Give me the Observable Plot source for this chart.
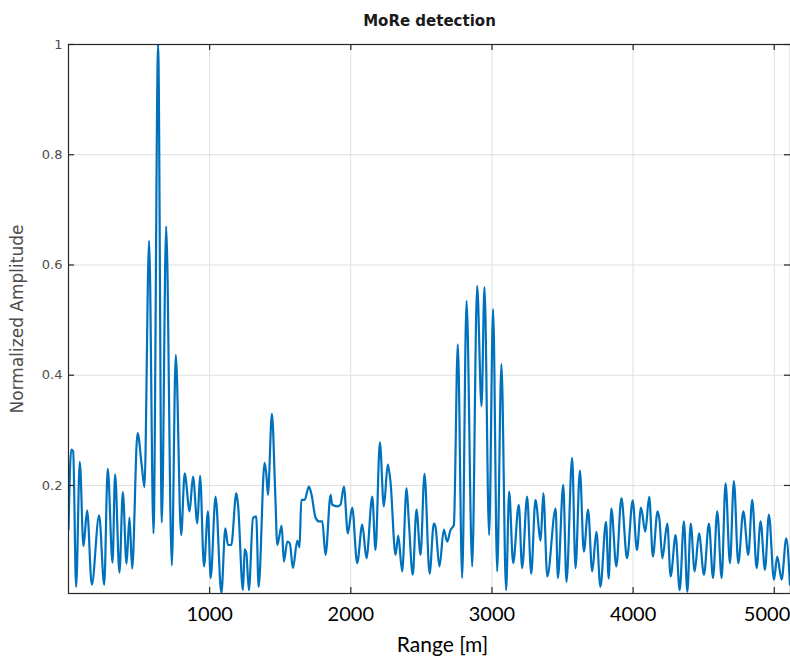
<!DOCTYPE html>
<html>
<head>
<meta charset="utf-8">
<script src="https://cdn.jsdelivr.net/npm/d3@7"></script>
<script src="https://cdn.jsdelivr.net/npm/@observablehq/plot@0.6"></script>
<style>
  html, body { margin: 0; padding: 0; background: #fff; }
</style>
</head>
<body>
<div id="chart"></div>
<script>
const titleText = "MoRe detection";
const xLabel = "Range [m]";
const yLabel = "Normalized Amplitude";
const xTicks = [1000, 2000, 3000, 4000, 5000];
const yTicks = [0.2, 0.4, 0.6, 0.8, 1];

const rangeM = [
  0, 19, 33, 54, 80, 106, 132, 165, 217, 253, 278, 312, 330, 361, 385, 411, 432, 451, 489, 519,
  538, 571, 602, 635, 661, 692, 732, 760, 798, 823, 858, 882, 913, 932, 960, 988, 1007, 1042, 1083, 1111,
  1130, 1153, 1189, 1201, 1236, 1248, 1260, 1278, 1307, 1330, 1347, 1389, 1401, 1413, 1441, 1465, 1479, 1510, 1526, 1550,
  1568, 1590, 1621, 1637, 1649, 1673, 1703, 1722, 1750, 1774, 1798, 1821, 1857, 1868, 1904, 1927, 1951, 1979, 2010, 2045,
  2081, 2111, 2152, 2175, 2206, 2234, 2262, 2281, 2317, 2336, 2364, 2395, 2411, 2439, 2465, 2494, 2522, 2558, 2588, 2600,
  2628, 2659, 2683, 2706, 2730, 2758, 2789, 2820, 2860, 2895, 2926, 2947, 2980, 3008, 3037, 3067, 3100, 3122, 3150, 3190,
  3214, 3249, 3278, 3308, 3345, 3364, 3392, 3451, 3467, 3505, 3528, 3568, 3592, 3623, 3651, 3681, 3710, 3740, 3768, 3808,
  3827, 3846, 3881, 3917, 3957, 3997, 4027, 4056, 4086, 4114, 4140, 4173, 4187, 4207, 4242, 4266, 4301, 4330, 4360, 4384,
  4408, 4436, 4467, 4502, 4537, 4566, 4596, 4627, 4655, 4686, 4714, 4745, 4781, 4816, 4844, 4875, 4903, 4934, 4962, 4998,
  5021, 5052, 5085, 5111
];
const amplitude = [
  0.12, 0.265, 0.262, 0.016, 0.243, 0.09, 0.155, 0.02, 0.146, 0.02, 0.23, 0.06, 0.22, 0.042, 0.188, 0.058, 0.142, 0.049, 0.295, 0.236,
  0.197, 0.644, 0.113, 1.0, 0.133, 0.67, 0.055, 0.437, 0.11, 0.222, 0.153, 0.216, 0.131, 0.218, 0.053, 0.153, 0.032, 0.18, 0.005, 0.122,
  0.092, 0.092, 0.186, 0.165, 0.01, 0.084, 0.077, 0.01, 0.141, 0.144, 0.016, 0.241, 0.222, 0.183, 0.33, 0.183, 0.092, 0.127, 0.062, 0.098,
  0.095, 0.05, 0.1, 0.088, 0.174, 0.174, 0.198, 0.183, 0.142, 0.135, 0.135, 0.074, 0.183, 0.165, 0.162, 0.165, 0.198, 0.113, 0.16, 0.059,
  0.129, 0.068, 0.18, 0.083, 0.278, 0.162, 0.238, 0.207, 0.074, 0.109, 0.044, 0.195, 0.135, 0.038, 0.156, 0.074, 0.221, 0.04, 0.131, 0.125,
  0.053, 0.12, 0.098, 0.119, 0.128, 0.456, 0.032, 0.535, 0.053, 0.562, 0.344, 0.56, 0.11, 0.52, 0.044, 0.42, 0.01, 0.189, 0.059, 0.165,
  0.05, 0.18, 0.04, 0.174, 0.1, 0.186, 0.035, 0.158, 0.032, 0.201, 0.025, 0.25, 0.05, 0.227, 0.08, 0.156, 0.044, 0.116, 0.016, 0.134,
  0.031, 0.158, 0.053, 0.177, 0.068, 0.173, 0.083, 0.16, 0.116, 0.18, 0.071, 0.153, 0.137, 0.068, 0.131, 0.035, 0.11, 0.01, 0.135, 0.007,
  0.131, 0.044, 0.113, 0.038, 0.131, 0.032, 0.153, 0.032, 0.204, 0.059, 0.208, 0.059, 0.153, 0.074, 0.174, 0.05, 0.135, 0.047, 0.147, 0.029,
  0.071, 0.029, 0.104, 0.02
];

const data = rangeM.map((x, i) => ({x, y: amplitude[i]}));

const W = 790, H = 664, mL = 68, mR = 0, mT = 44, mB = 71;
const fw = W - mL - mR, fh = H - mT - mB, tk = 6;
const frameColor = "#262626";
const gridColor = "#dfdfdf";
const xFont = {fontSize: 20, fontFamily: "Lato", fill: "#000"};

const chart = Plot.plot({
  width: W,
  height: H,
  marginLeft: mL,
  marginRight: mR,
  marginTop: mT,
  marginBottom: mB,
  style: {background: "#fff", fontFamily: "DejaVu Sans"},
  x: {domain: [0, 5115], axis: null},
  y: {domain: [0.004, 1], axis: null},
  marks: [
    Plot.ruleX(xTicks, {x: d => d, stroke: gridColor, strokeWidth: 1}),
    Plot.ruleY(yTicks, {y: d => d, stroke: gridColor, strokeWidth: 1}),
    Plot.line(data, {x: "x", y: "y", stroke: "#0072BD", strokeWidth: 2.2, curve: "monotone-x", clip: true}),
    Plot.frame({stroke: frameColor, strokeWidth: 1.2}),
    Plot.ruleX(xTicks, {x: d => d, insetTop: fh - tk, stroke: frameColor, strokeWidth: 1.2}),
    Plot.ruleX(xTicks, {x: d => d, insetBottom: fh - tk, stroke: frameColor, strokeWidth: 1.2}),
    Plot.ruleY(yTicks, {y: d => d, insetRight: fw - tk, stroke: frameColor, strokeWidth: 1.2}),
    Plot.ruleY(yTicks, {y: d => d, insetLeft: fw - tk, stroke: frameColor, strokeWidth: 1.2}),
    Plot.text(yTicks, {y: d => d, text: d => String(d), frameAnchor: "left", textAnchor: "end", dx: -6,
      fontSize: 13, fontFamily: "DejaVu Sans", fill: "#4d4d4d"}),
    Plot.text(xTicks.slice(0, -1), {x: d => d, text: d => String(d), frameAnchor: "bottom", dy: 27, ...xFont}),
    Plot.text(xTicks.slice(-1), {x: d => d, text: d => String(d), frameAnchor: "bottom", dy: 27,
      textAnchor: "end", dx: 16, ...xFont}),
    Plot.text([xLabel], {text: d => d, frameAnchor: "bottom", dy: 58, dx: 13, ...xFont, fontSize: 21}),
    Plot.text([yLabel], {text: d => d, frameAnchor: "left", textAnchor: "middle", rotate: -90, dx: -51,
      fontSize: 17, fontFamily: "DejaVu Sans", fill: "#4d4d4d"}),
    Plot.text([titleText], {text: d => d, frameAnchor: "top", dy: -29,
      fontSize: 15, fontWeight: "bold", fontFamily: "DejaVu Sans", fill: "#1a1a1a"})
  ]
});
document.getElementById("chart").appendChild(chart);
</script>
</body>
</html>
